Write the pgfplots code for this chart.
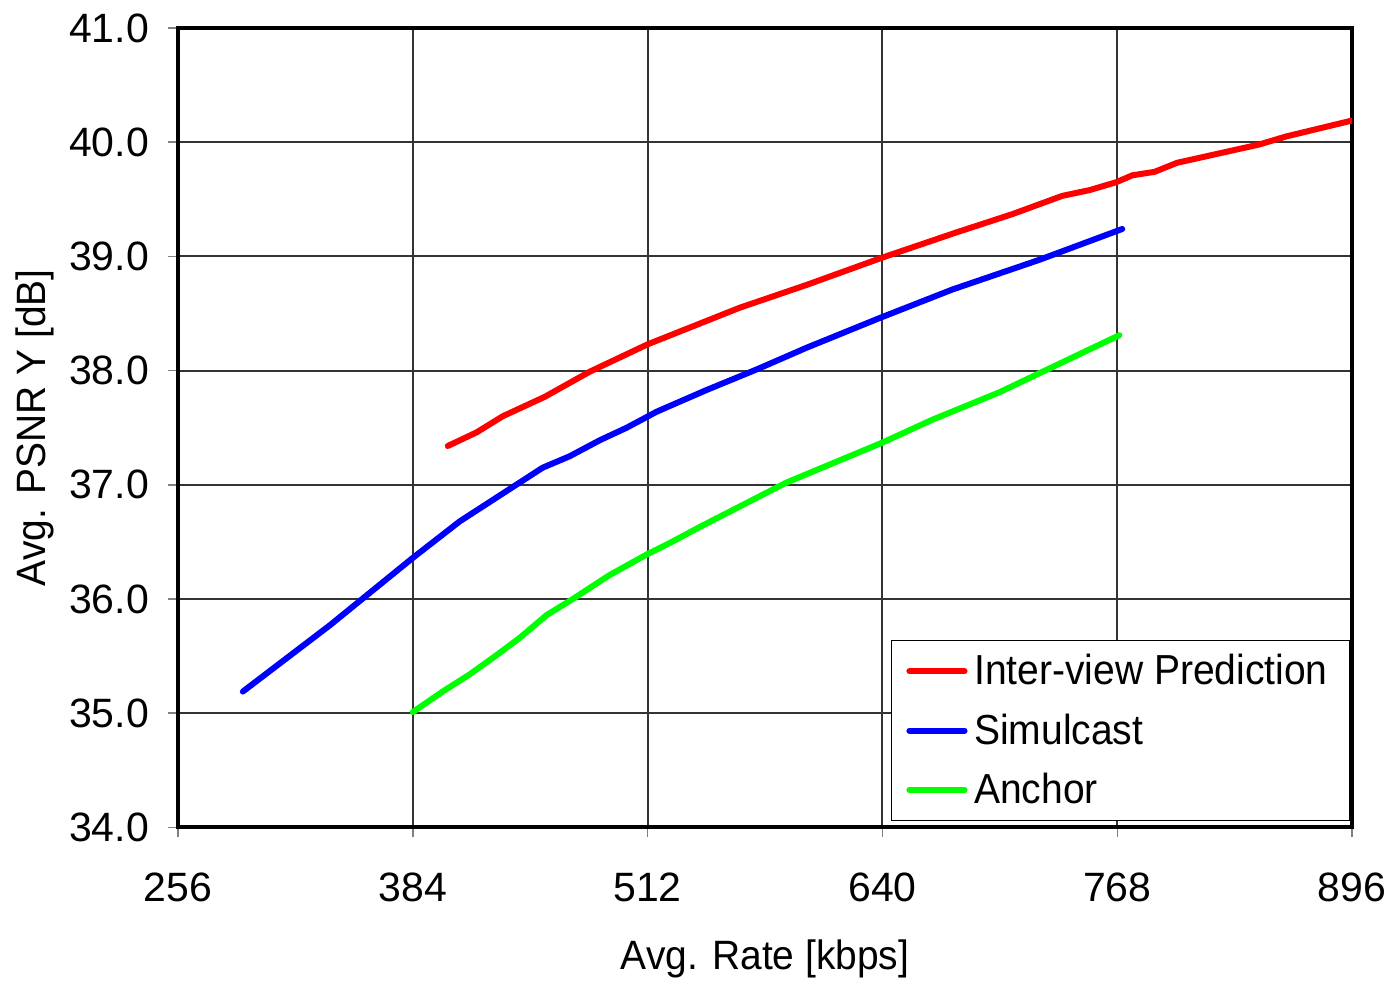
\documentclass[border=0pt]{standalone}
\usepackage{fontspec}
\setmainfont{Liberation Sans}
\newfontfamily\narrowfont{Liberation Sans}[FakeStretch=0.95]
\newfontfamily\legfont{Liberation Sans}[FakeStretch=0.93]
\usepackage{pgfplots}
\pgfplotsset{compat=1.18}

\begin{document}
\begin{tikzpicture}
\begin{axis}[
    name=ax,
    scale only axis,
    width=587.5pt, height=400pt,
    xmin=256, xmax=896, ymin=34, ymax=41,
    xtick={256,384,512,640,768,896},
    ytick={34,35,36,37,38,39,40,41},
    grid=major,
    grid style={line width=1pt, black!80},
    axis line style={line width=2pt, black},
    tick style={line width=0.8pt, gray},
    major tick length=5pt,
    tick align=outside,
    xtick pos=bottom, ytick pos=left,
    font=\fontsize{20.5}{24}\selectfont,
    /pgf/number format/assume math mode=true,
    yticklabel={\pgfmathprintnumber[fixed,fixed zerofill,precision=1]{\tick}},
    xticklabel={\pgfmathprintnumber[fixed]{\tick}},
    yticklabel style={anchor=east, xshift=-6pt},
    xticklabel style={anchor=center, yshift=-25pt},
    xlabel={Avg. Rate [kbps]},
    ylabel={Avg. PSNR Y [dB]},
    xlabel style={at={(axis description cs:0.5,0)}, anchor=center, yshift=-66pt,
        font=\narrowfont\fontsize{20.5}{24}\selectfont},
    ylabel style={at={(axis description cs:0,0.5)}, anchor=center, yshift=71.5pt,
        font=\narrowfont\fontsize{20.5}{24}\selectfont},
    legend style={at={(axis cs:896,34)}, anchor=south east, xshift=-1pt, yshift=3pt,
        draw=black, line width=0.8pt, fill=white, row sep=9pt,
        inner xsep=7.5pt, inner ysep=5pt,
        font=\legfont\fontsize{21}{24}\selectfont,
        nodes={inner xsep=3.3pt}},
    legend cell align=left,
    legend image code/.code={\draw[#1, line width=3pt] (0cm,0cm) -- (0.97cm,0cm);},
]
\addplot[color=red, line width=3pt, line cap=round, line join=round] coordinates {
    (403.1,37.34) (418.9,37.46) (433,37.60) (455.9,37.77) (480.4,37.99)
    (512,38.23) (562.1,38.55) (598.6,38.75) (640,38.99)
    (680.3,39.21) (710.8,39.37) (738,39.53) (752.8,39.58) (767.5,39.65)
    (776.2,39.71) (788.2,39.74) (800.7,39.82) (845.4,39.98) (860,40.05)
    (896,40.19)
};
\addlegendentry{Inter-view Prediction}
\addplot[color=blue, line width=3pt, line cap=round, line join=round] coordinates {
    (291.4,35.19) (338.8,35.77) (384,36.36) (409.6,36.68) (429.8,36.89)
    (442.3,37.02) (454.8,37.15) (469.5,37.25) (485.9,37.39) (500.6,37.50)
    (516.9,37.64) (544.1,37.83) (571.4,38.01) (598.6,38.20) (638.4,38.46)
    (678.1,38.71) (725.5,38.97) (770.7,39.24)
};
\addlegendentry{Simulcast}
\addplot[color=green, line width=3pt, line cap=round, line join=round] coordinates {
    (384,35.01) (400.3,35.19) (415,35.34) (429.8,35.51) (442.3,35.66)
    (457,35.86) (471.2,36.00) (491.3,36.21) (511.5,36.39) (524,36.49)
    (540.3,36.63) (587.7,37.02) (640,37.37) (667.2,37.57) (703.7,37.81)
    (769.1,38.31)
};
\addlegendentry{Anchor}
\end{axis}
\path[use as bounding box] ([xshift=-89pt,yshift=-75.5pt]ax.south west)
    rectangle ([xshift=20pt,yshift=14pt]ax.north east);
\end{tikzpicture}
\end{document}
